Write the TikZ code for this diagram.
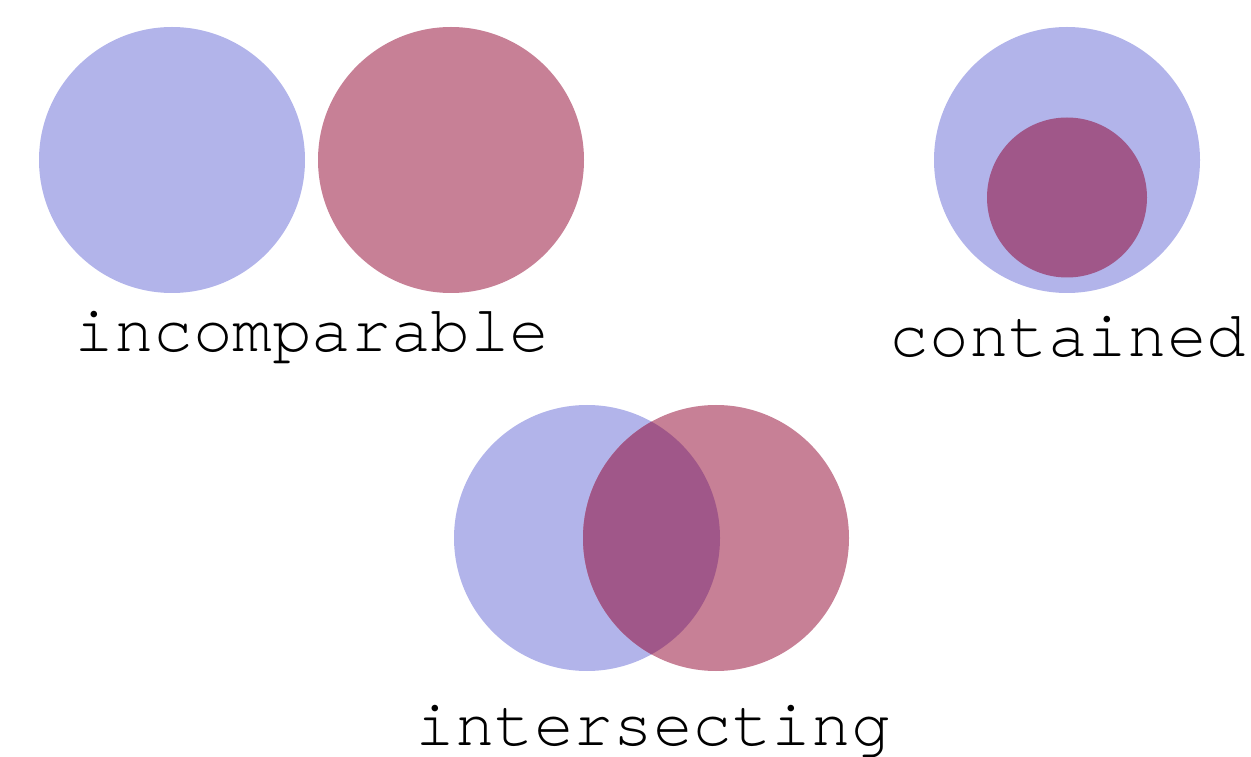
\documentclass[tikz,border=0pt]{standalone}
\usepackage{fontspec}
\newfontfamily\labelfont{texgyrecursor-regular.otf}
\definecolor{blueC}{RGB}{178,180,234}
\definecolor{redC}{RGB}{199,128,150}
\definecolor{mixC}{RGB}{160,87,137}
\begin{document}
\begin{tikzpicture}[x=1pt,y=1pt,
  setA/.style={circle,fill=blueC,inner sep=0,minimum size=266pt},
  setB/.style={circle,fill=redC,inner sep=0,minimum size=266pt},
  lbl/.style={anchor=base,inner sep=0,font=\labelfont\fontsize{66}{70}\selectfont}]
\useasboundingbox (0,0) rectangle (1251,756);
% incomparable
\node[setA] (a1) at (172,596) {};
\node[setB] (b1) at (451,596) {};
\node[lbl] (l1) at (312,404) {incomparable};
% contained
\node[setA] (a2) at (1067,596) {};
\node[circle,fill=mixC,inner sep=0,minimum size=160pt] (b2) at (1067,558.5) {};
\node[lbl] (l2) at (1068,399) {contained};
% intersecting
\node[setA] (a3) at (587,218) {};
\node[setB] (b3) at (716,218) {};
\begin{scope}
  \clip (587,218) circle (133);
  \fill[mixC] (716,218) circle (133);
\end{scope}
\node[lbl] (l3) at (653,11) {intersecting};
\end{tikzpicture}
\end{document}
